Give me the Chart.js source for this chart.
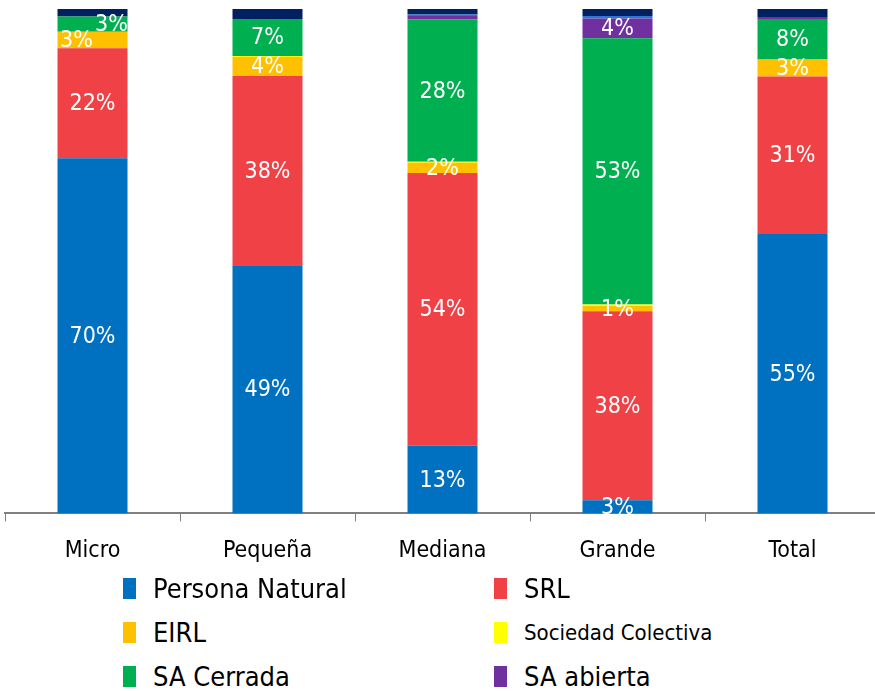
<!DOCTYPE html>
<html>
<head>
<meta charset="utf-8">
<script src="https://cdn.jsdelivr.net/npm/chart.js@4/dist/chart.umd.min.js"></script>
<style>
  html, body { margin: 0; padding: 0; background: #fff; overflow: hidden; }
  #wrap { position: relative; width: 875px; height: 691px; overflow: hidden; font-family: "DejaVu Sans Condensed", "Liberation Sans Narrow", sans-serif; }
  #box { position: absolute; left: 0; top: 0; width: 880px; height: 589px; }
  #legend { position: absolute; left: 0; top: 566px; width: 875px; }
  .item { position: absolute; height: 44px; display: flex; align-items: center; color: #000; }
  .item span.sw { display: inline-block; width: 13px; height: 21px; margin-right: 17px; }
</style>
</head>
<body>
<div id="wrap">
  <div id="box"><canvas id="myChart"></canvas></div>
  <div id="legend"></div>
</div>
<script>
const categories = ['Micro', 'Pequeña', 'Mediana', 'Grande', 'Total'];

// shares in %, bottom to top of each bar
const personaNatural    = [70.4, 49.2, 13.4,  2.6, 55.4];
const srl               = [21.8, 37.5, 54.1, 37.5, 31.2];
const eirl              = [ 3.3,  3.8,  2.0,  1.0,  3.4];
const sociedadColectiva = [ 0.0,  0.2,  0.2,  0.3,  0.0];
const saCerrada         = [ 3.0,  7.3, 28.2, 52.8,  8.0];
const saAbierta         = [ 0.0,  0.0,  0.7,  3.9,  0.4];
const sucursal          = [ 0.0,  0.0,  0.3,  0.5,  0.0];
const otros             = [ 1.5,  2.0,  1.1,  1.4,  1.6];

const FONT = '"DejaVu Sans Condensed", "Liberation Sans Narrow", sans-serif';

// values printed inside the bars (white, rounded)
const barLabels = {
  id: 'barLabels',
  afterDatasetsDraw(chart) {
    const c = chart.ctx;
    c.save();
    c.fillStyle = '#fff';
    c.font = '23px ' + FONT;
    c.textAlign = 'center';
    c.textBaseline = 'middle';
    chart.data.datasets.forEach((ds, i) => {
      if (ds.noLabel) return;
      chart.getDatasetMeta(i).data.forEach((bar, j) => {
        const v = ds.data[j];
        if (v < 1) return;
        const dx = (ds.shiftX && ds.shiftX[j]) || 0;
        c.fillText(Math.round(v) + '%', bar.x + dx, (bar.y + bar.base) / 2 + 1);
      });
    });
    c.restore();
  }
};

const ctx = document.getElementById('myChart');

const chart = new Chart(ctx, {
  type: 'bar',
  data: {
    labels: categories,
    datasets: [
      { label: 'Persona Natural', data: personaNatural, backgroundColor: '#0070C0' },
      { label: 'SRL', data: srl, backgroundColor: '#EF4146' },
      { label: 'EIRL', data: eirl, backgroundColor: '#FFC000', shiftX: [-16, 0, 0, 0, 0] },
      { label: 'Sociedad Colectiva', data: sociedadColectiva, backgroundColor: '#FFFF00' },
      { label: 'SA Cerrada', data: saCerrada, backgroundColor: '#00B050', shiftX: [19, 0, 0, 0, 0] },
      { label: 'SA abierta', data: saAbierta, backgroundColor: '#7030A0' },
      { label: 'Sucursal', data: sucursal, backgroundColor: '#2E75D6', noLabel: true, hideLegend: true },
      { label: 'Otros', data: otros, backgroundColor: '#002060', noLabel: true, hideLegend: true }
    ]
  },
  options: {
    responsive: true,
    maintainAspectRatio: false,
    animation: false,
    layout: { padding: { top: 9, left: 5, right: 0, bottom: 8 } },
    datasets: { bar: { barPercentage: 0.4, categoryPercentage: 1, borderWidth: 0 } },
    plugins: { legend: { display: false }, tooltip: { enabled: false } },
    scales: {
      x: {
        stacked: true,
        offset: true,
        border: { display: true, color: '#808080', width: 2 },
        grid: { offset: true, drawOnChartArea: false, drawTicks: true, tickLength: 8, color: '#808080', lineWidth: 1 },
        ticks: { color: '#000', padding: 16, font: { family: FONT, size: 23 } }
      },
      y: {
        stacked: true,
        display: false,
        min: 0,
        max: 100
      }
    }
  },
  plugins: [barLabels]
});

// legend in two columns, three rows
const legendSizes = { 'Sociedad Colectiva': 22 };
const leg = document.getElementById('legend');
let n = 0;
chart.data.datasets.forEach(ds => {
  if (ds.hideLegend) return;
  const el = document.createElement('div');
  el.className = 'item';
  el.style.left = (n % 2 === 0 ? 123 : 494) + 'px';
  el.style.top = (Math.floor(n / 2) * 44) + 'px';
  el.style.fontSize = (legendSizes[ds.label] || 27) + 'px';
  el.innerHTML = '<span class="sw" style="background:' + ds.backgroundColor + '"></span>' + ds.label;
  leg.appendChild(el);
  n++;
});
</script>
</body>
</html>
